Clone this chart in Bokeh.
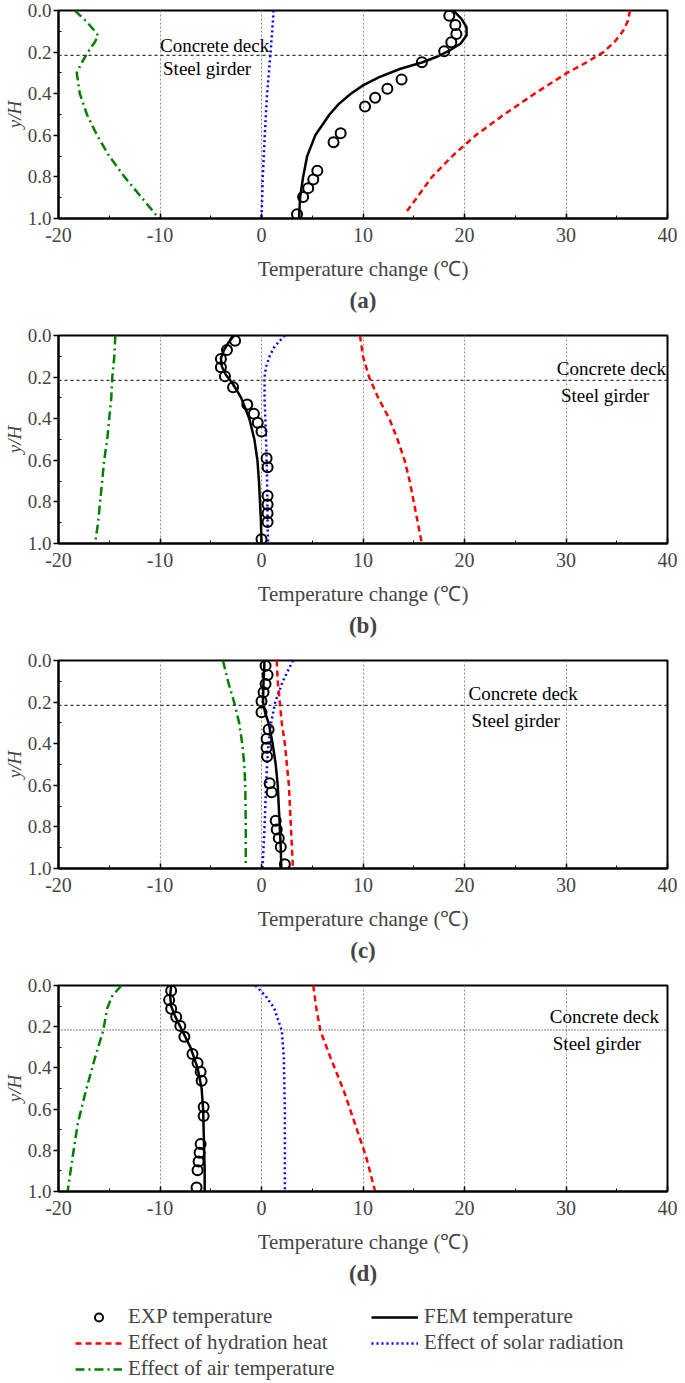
from bokeh.plotting import figure
from bokeh.layouts import column
from bokeh.models import Range1d, FixedTicker, Span, Legend, LegendItem
from bokeh.core.properties import value
from bokeh.embed import file_html
from bokeh.resources import INLINE

# ---------------- data ----------------
x_ticks = [-20, -10, 0, 10, 20, 30, 40]
x_tick_labels = ["-20", "-10", "0", "10", "20", "30", "40"]
x_minor = [-15, -5, 5, 15, 25, 35]
y_ticks = [0.0, 0.2, 0.4, 0.6, 0.8, 1.0]
y_tick_labels = ["0.0", "0.2", "0.4", "0.6", "0.8", "1.0"]
y_minor = [0.1, 0.3, 0.5, 0.7, 0.9]
interface_yH = 0.216

panel_letters = ["a", "b", "c", "d"]
series_names = ["EXP temperature", "FEM temperature", "Effect of hydration heat",
                "Effect of solar radiation", "Effect of air temperature"]

exp_yH = [0.025, 0.07, 0.113, 0.153, 0.196, 0.249, 0.332, 0.376, 0.419, 0.462,
          0.59, 0.633, 0.77, 0.812, 0.854, 0.897, 0.98]
a_exp_T = [18.5, 19.1, 19.2, 18.7, 18.0, 15.8, 13.8, 12.4, 11.2, 10.2, 7.8, 7.1, 5.5, 5.1, 4.6, 4.1, 3.5]
b_exp_T = [-2.6, -3.4, -4.0, -4.0, -3.6, -2.8, -1.4, -0.75, -0.37, 0.0, 0.5, 0.6, 0.6, 0.6, 0.6, 0.6, 0.0]
c_exp_T = [0.4, 0.6, 0.4, 0.2, 0.0, 0.0, 0.7, 0.5, 0.5, 0.55, 0.8, 1.0, 1.4, 1.5, 1.7, 1.9, 2.3]
d_exp_T = [-8.9, -9.1, -8.9, -8.4, -8.0, -7.6, -6.8, -6.3, -6.0, -5.9, -5.7, -5.7, -6.0, -6.1, -6.2, -6.3, -6.4]

a_fem_yH = [0.0, 0.04, 0.08, 0.12, 0.16, 0.19, 0.22, 0.25, 0.28, 0.32, 0.36, 0.4, 0.45, 0.5, 0.6, 0.7, 0.8, 0.9, 1.0]
a_fem_T = [18.9, 19.7, 20.2, 20.2, 19.6, 18.6, 17.4, 15.8, 13.7, 11.6, 10.0, 8.8, 7.6, 6.7, 5.3, 4.5, 4.1, 3.8, 3.7]
b_fem_yH = [0.0, 0.03, 0.07, 0.11, 0.15, 0.19, 0.22, 0.25, 0.3, 0.35, 0.4, 0.5, 0.6, 0.7, 0.8, 0.9, 1.0]
b_fem_T = [-2.7, -3.2, -3.7, -4.0, -3.9, -3.5, -3.0, -2.6, -2.0, -1.6, -1.2, -0.7, -0.4, -0.25, -0.15, -0.05, 0.0]
c_fem_yH = [0.0, 0.1, 0.2, 0.25, 0.3, 0.4, 0.5, 0.6, 0.7, 0.8, 0.9, 1.0]
c_fem_T = [0.3, 0.2, 0.15, 0.35, 0.7, 1.1, 1.4, 1.6, 1.7, 1.8, 1.9, 1.95]
d_fem_yH = [0.0, 0.05, 0.1, 0.15, 0.2, 0.25, 0.3, 0.4, 0.5, 0.6, 0.7, 0.8, 0.9, 1.0]
d_fem_T = [-8.9, -9.0, -8.9, -8.5, -8.0, -7.5, -7.0, -6.3, -5.9, -5.75, -5.7, -5.65, -5.6, -5.6]

a_hyd_yH = [0.0, 0.05, 0.1, 0.15, 0.2, 0.25, 0.3, 0.4, 0.5, 0.6, 0.7, 0.8, 0.9, 0.98]
a_hyd_T = [36.3, 36.1, 35.6, 34.8, 33.7, 32.0, 30.1, 26.9, 23.9, 21.1, 18.8, 16.8, 15.3, 14.1]
b_hyd_yH = [0.0, 0.1, 0.2, 0.3, 0.4, 0.5, 0.6, 0.7, 0.8, 0.9, 1.0]
b_hyd_T = [9.7, 10.0, 10.6, 11.5, 12.6, 13.4, 14.1, 14.6, 15.0, 15.4, 15.8]
c_hyd_yH = [0.0, 0.1, 0.2, 0.3, 0.4, 0.5, 0.6, 0.8, 1.0]
c_hyd_T = [1.5, 1.6, 1.8, 2.0, 2.3, 2.5, 2.7, 2.9, 3.1]
d_hyd_yH = [0.0, 0.11, 0.22, 0.35, 0.51, 0.67, 0.83, 1.0]
d_hyd_T = [5.1, 5.4, 5.8, 6.8, 8.1, 9.2, 10.3, 11.2]

a_sol_yH = [0.0, 0.1, 0.21, 0.4, 0.6, 0.8, 1.0]
a_sol_T = [1.2, 1.05, 0.88, 0.55, 0.32, 0.13, 0.0]
b_sol_yH = [0.0, 0.03, 0.06, 0.1, 0.15, 0.2, 0.3, 0.5, 0.7, 0.9, 1.0]
b_sol_T = [2.3, 1.7, 1.2, 0.8, 0.45, 0.3, 0.3, 0.45, 0.55, 0.6, 0.65]
c_sol_yH = [0.0, 0.05, 0.1, 0.2, 0.3, 0.4, 0.5, 0.6, 0.8, 1.0]
c_sol_T = [3.1, 2.6, 2.1, 1.35, 0.95, 0.7, 0.55, 0.45, 0.3, 0.1]
d_sol_yH = [0.0, 0.05, 0.11, 0.22, 0.35, 0.6, 1.0]
d_sol_T = [-0.6, 0.4, 1.25, 2.0, 2.2, 2.3, 2.3]

a_air_yH = [0.0, 0.05, 0.1, 0.12, 0.15, 0.2, 0.25, 0.3, 0.4, 0.5, 0.6, 0.7, 0.8, 0.9, 1.0]
a_air_T = [-18.4, -17.3, -16.4, -16.1, -16.4, -17.1, -17.7, -18.2, -17.9, -17.2, -16.2, -15.0, -13.5, -11.8, -10.1]
b_air_yH = [0.0, 0.1, 0.2, 0.3, 0.4, 0.5, 0.6, 0.7, 0.8, 0.9, 1.0]
b_air_T = [-14.4, -14.5, -14.7, -14.8, -15.0, -15.2, -15.5, -15.7, -15.9, -16.1, -16.4]
c_air_yH = [0.0, 0.1, 0.2, 0.3, 0.4, 0.5, 0.6, 0.8, 1.0]
c_air_T = [-3.8, -3.3, -2.7, -2.2, -1.9, -1.7, -1.6, -1.55, -1.55]
d_air_yH = [0.0, 0.05, 0.11, 0.22, 0.35, 0.51, 0.67, 0.83, 1.0]
d_air_T = [-13.8, -14.7, -15.2, -15.6, -16.4, -17.3, -18.1, -18.6, -19.1]

# ---------------- layout / style ----------------
SERIF = "Liberation Serif"
RED, BLUE, GREEN, BLACK = "#ff0000", "#0000ff", "#008000", "#000000"
deck_label_pos = {"a": (-10.0, 0.168), "b": (29.1, 0.16), "c": (20.4, 0.16), "d": (28.4, 0.152)}
girder_label_pos = {"a": (-9.7, 0.28), "b": (29.5, 0.29), "c": (20.7, 0.29), "d": (28.7, 0.28)}
# (figure height, frame height) per panel
panel_geom = {"a": (325, 208), "b": (325, 208), "c": (325, 208), "d": (313, 208)}
TOP = 10
LEGEND_H = 95

panel_data = {
    "a": (a_exp_T, a_fem_yH, a_fem_T, a_hyd_yH, a_hyd_T, a_sol_yH, a_sol_T, a_air_yH, a_air_T),
    "b": (b_exp_T, b_fem_yH, b_fem_T, b_hyd_yH, b_hyd_T, b_sol_yH, b_sol_T, b_air_yH, b_air_T),
    "c": (c_exp_T, c_fem_yH, c_fem_T, c_hyd_yH, c_hyd_T, c_sol_yH, c_sol_T, c_air_yH, c_air_T),
    "d": (d_exp_T, d_fem_yH, d_fem_T, d_hyd_yH, d_hyd_T, d_sol_yH, d_sol_T, d_air_yH, d_air_T),
}

LW = 2.5
STY = {
    "hyd": dict(line_color=RED, line_width=LW, line_dash="6 4"),
    "sol": dict(line_color=BLUE, line_width=LW, line_dash="2 3"),
    "air": dict(line_color=GREEN, line_width=LW, line_dash="9 4 2 4"),
    "fem": dict(line_color=BLACK, line_width=LW),
    "exp": dict(marker="circle", size=10, fill_color=None, line_color=BLACK, line_width=2),
}

FIG_W = 677


def make_panel(letter):
    height, frame_h = panel_geom[letter]
    exp_T, fem_y, fem_T, hyd_y, hyd_T, sol_y, sol_T, air_y, air_T = panel_data[letter]
    p = figure(width=FIG_W, height=height, x_range=Range1d(-20, 40), y_range=Range1d(1.0, 0.0),
               output_backend="svg", toolbar_location=None,
               title="(" + letter + ")", title_location="below",
               min_border_left=52, min_border_right=FIG_W - 52 - 615, min_border_top=TOP,
               min_border_bottom=height - TOP - frame_h)
    p.title.text_font = SERIF
    p.title.text_font_style = "bold"
    p.title.text_font_size = "23px"
    p.title.align = "center"
    p.title.standoff = 5

    p.outline_line_color = "black"
    p.outline_line_width = 2
    p.outline_line_alpha = 1

    xa = p.xaxis[0]
    xa.ticker = FixedTicker(ticks=x_ticks, minor_ticks=x_minor)
    xa.major_label_overrides = dict(zip(x_ticks, x_tick_labels))
    xa.axis_label = "Temperature change (\u2103)"
    xa.axis_label_text_font = SERIF
    xa.axis_label_text_font_size = "21px"
    xa.axis_label_text_font_style = "normal"
    xa.axis_label_standoff = 12
    xa.major_label_text_font = SERIF
    xa.major_label_text_font_size = "20px"
    xa.major_label_standoff = 9
    xa.major_tick_in = 5
    xa.major_tick_out = 0
    xa.minor_tick_in = 3
    xa.minor_tick_out = 0
    xa.axis_line_width = 2
    xa.major_tick_line_width = 1.5

    ya = p.yaxis[0]
    ya.ticker = FixedTicker(ticks=y_ticks, minor_ticks=y_minor)
    ya.major_label_overrides = dict(zip(y_ticks, y_tick_labels))
    ya.axis_label = "y/H"
    ya.axis_label_text_font = SERIF
    ya.axis_label_text_font_size = "19px"
    ya.axis_label_text_font_style = "italic"
    ya.axis_label_standoff = 0
    ya.major_label_text_font = SERIF
    ya.major_label_text_font_size = "19px"
    ya.major_label_standoff = 2
    ya.major_tick_in = 0
    ya.major_tick_out = 5
    ya.minor_tick_in = 3
    ya.minor_tick_out = 0
    ya.axis_line_width = 2
    ya.major_tick_line_width = 1.5

    p.xgrid.grid_line_color = "#8a8a8a"
    p.xgrid.grid_line_dash = "2 2"
    p.xgrid.grid_line_width = 1
    p.ygrid.visible = False

    if letter != "d":
        p.add_layout(Span(location=interface_yH, dimension="width", line_color="#333333",
                          line_dash="3 3", line_width=1.2))
    else:
        p.add_layout(Span(location=interface_yH, dimension="width", line_color="#000000",
                          line_dash="1 2", line_width=1.2))

    dx, dy = deck_label_pos[letter]
    gx, gy = girder_label_pos[letter]
    p.text(x=[dx, gx], y=[dy, gy], text=["Concrete deck", "Steel girder"],
           text_font=value(SERIF), text_font_size="19px", text_align="left",
           text_baseline="middle", text_color="black")

    p.line(air_T, air_y, **STY["air"])
    p.line(sol_T, sol_y, **STY["sol"])
    p.line(hyd_T, hyd_y, **STY["hyd"])
    p.line(fem_T, fem_y, **STY["fem"])
    p.scatter(exp_T, exp_yH, **STY["exp"])
    return p


panels = [make_panel(l) for l in panel_letters]

# ---------------- legend (separate strip, renderers kept out of view) ----------------
leg = figure(width=FIG_W, height=LEGEND_H, output_backend="svg", toolbar_location=None,
             x_axis_type=None, y_axis_type=None, min_border=0,
             min_border_left=0, min_border_right=0, min_border_top=0, min_border_bottom=0,
             outline_line_color=None,
             x_range=Range1d(1000, 1001), y_range=Range1d(1000, 1001))
leg.grid.visible = False
r_exp = leg.scatter(x=d_exp_T[:1], y=exp_yH[:1], **STY["exp"])
r_fem = leg.line(x=d_fem_T[:2], y=d_fem_yH[:2], **STY["fem"])
r_hyd = leg.line(x=d_hyd_T[:2], y=d_hyd_yH[:2], **STY["hyd"])
r_sol = leg.line(x=d_sol_T[:2], y=d_sol_yH[:2], **STY["sol"])
r_air = leg.line(x=d_air_T[:2], y=d_air_yH[:2], **STY["air"])


def style_legend(lg):
    lg.label_text_font = SERIF
    lg.label_text_font_size = "21px"
    lg.glyph_width = 47
    lg.glyph_height = 20
    lg.label_height = 20
    lg.label_standoff = 6
    lg.spacing = 1
    lg.padding = 0
    lg.margin = 0
    lg.border_line_alpha = 0
    lg.background_fill_alpha = 0
    return lg


left_leg = style_legend(Legend(items=[
    LegendItem(label=series_names[0], renderers=[r_exp]),
    LegendItem(label=series_names[2], renderers=[r_hyd]),
    LegendItem(label=series_names[4], renderers=[r_air]),
], location=(17, 2)))
right_leg = style_legend(Legend(items=[
    LegendItem(label=series_names[1], renderers=[r_fem]),
    LegendItem(label=series_names[3], renderers=[r_sol]),
], location=(313, 28)))
leg.add_layout(left_leg)
leg.add_layout(right_leg)

layout = column(*panels, leg, spacing=0)
open("out.html", "w").write(file_html(layout, INLINE))
